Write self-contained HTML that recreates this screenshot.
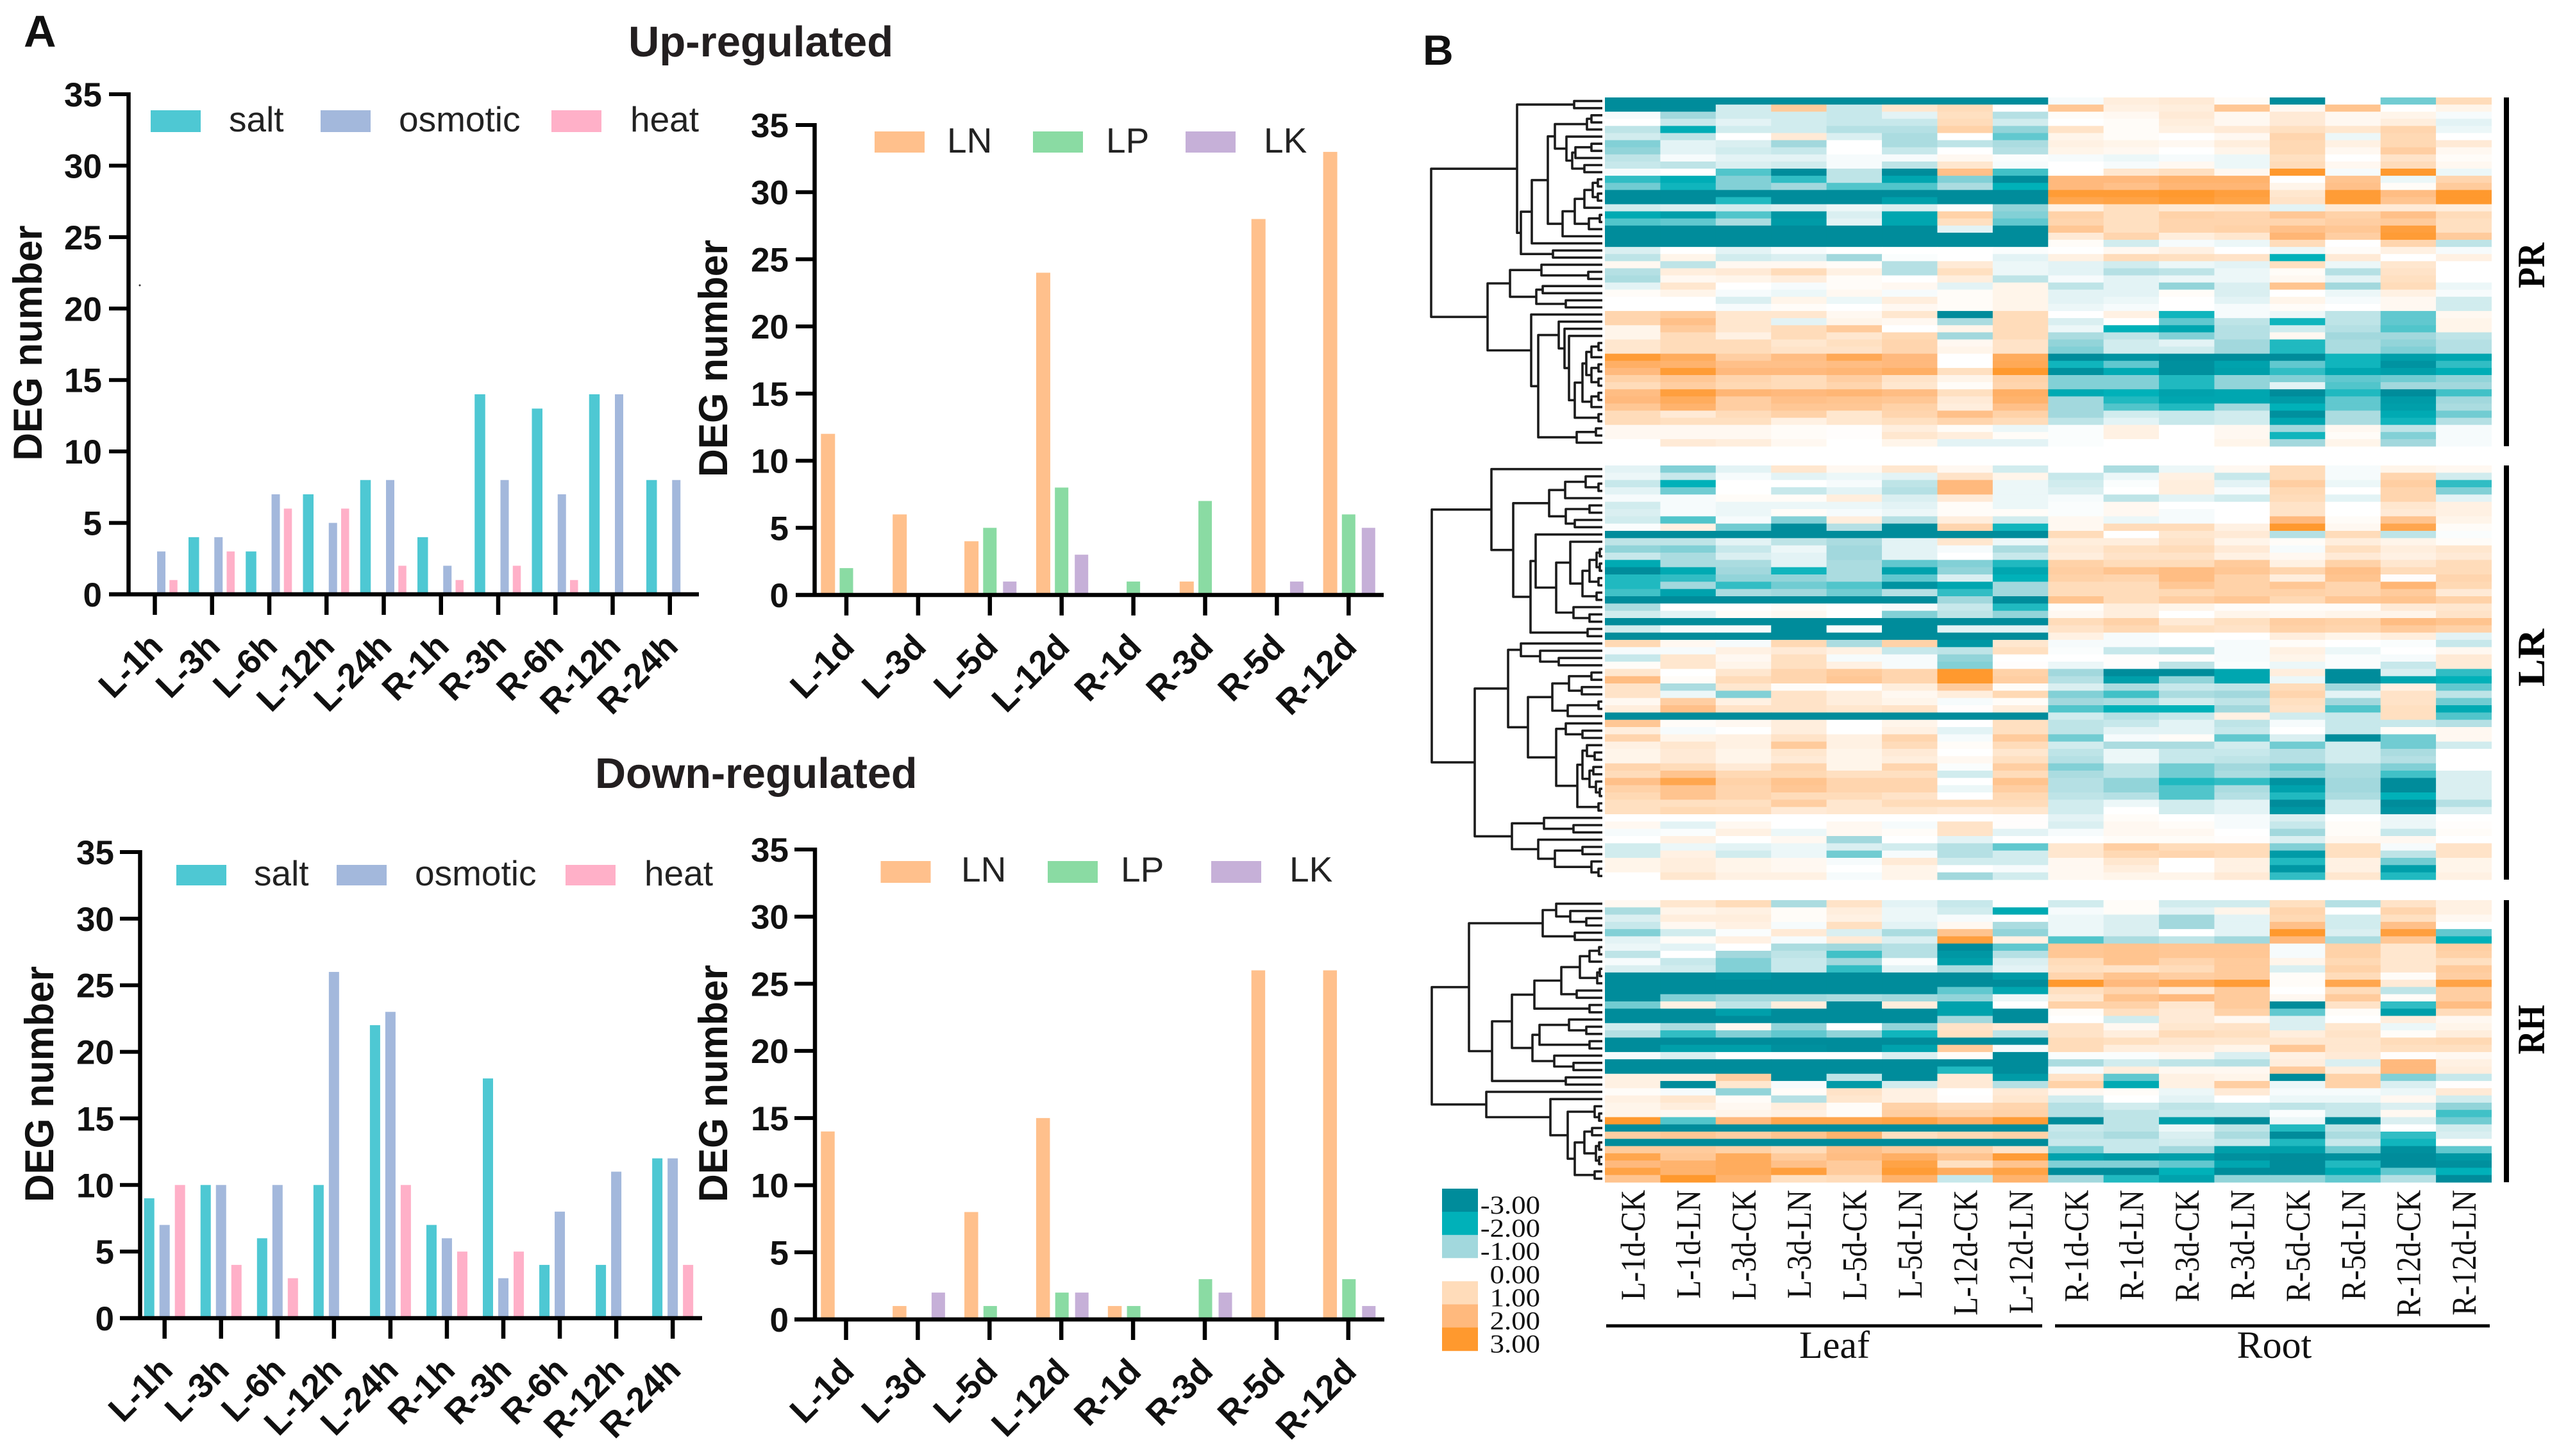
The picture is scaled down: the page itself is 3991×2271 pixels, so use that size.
<!DOCTYPE html>
<html lang="en">
<head>
<meta charset="utf-8">
<title>DEG number bar charts and expression heatmap</title>
<style>
html,body{margin:0;padding:0;background:#fff;width:3991px;height:2271px;overflow:hidden}
svg{display:block}
.sans{font-family:"Liberation Sans",sans-serif}
.serif{font-family:"Liberation Serif",serif}
</style>
</head>
<body>
<svg id="figure" xmlns="http://www.w3.org/2000/svg" width="3991" height="2271" viewBox="0 0 3991 2271">
<rect width="3991" height="2271" fill="#fff"/>
<text class="sans" x="37" y="73" font-size="70" font-weight="700" fill="#111">A</text>
<text class="sans" x="2219" y="101" font-size="66" font-weight="700" fill="#111">B</text>
<text class="sans" x="980" y="88" font-size="67" font-weight="700" fill="#231f20">Up-regulated</text>
<text class="sans" x="928" y="1229" font-size="66.5" font-weight="700" fill="#231f20">Down-regulated</text>
<circle cx="218" cy="445" r="1.5" fill="#333"/>
<g id="charts"></g>
<g id="heatmap"></g>
<g id="dendrograms"></g>
<g id="heat-annotations"></g>
</svg>
<script>
// ---------- bar chart data ----------
const stressCategories = ["L-1h","L-3h","L-6h","L-12h","L-24h","R-1h","R-3h","R-6h","R-12h","R-24h"];
const nutrientCategories = ["L-1d","L-3d","L-5d","L-12d","R-1d","R-3d","R-5d","R-12d"];
const yTickValues = [0,5,10,15,20,25,30,35];
const upSalt = [0,4,3,7,8,4,14,13,14,8];
const upOsmotic = [3,4,7,5,8,2,8,7,14,8];
const upHeat = [1,3,6,6,2,1,2,1,0,0];
const upLN = [12,6,4,24,0,1,28,33];
const upLP = [2,0,5,8,1,7,0,6];
const upLK = [0,0,1,3,0,0,1,5];
const downSalt = [9,10,6,10,22,7,18,4,4,12];
const downOsmotic = [7,10,10,26,23,6,3,8,11,12];
const downHeat = [10,4,3,0,10,5,5,0,0,4];
const downLN = [14,1,8,15,1,0,26,26];
const downLP = [0,0,1,2,1,3,0,3];
const downLK = [0,2,0,2,0,2,0,1];

// ---------- heatmap data ----------
const sampleLabels = ["L-1d-CK","L-1d-LN","L-3d-CK","L-3d-LN","L-5d-CK","L-5d-LN","L-12d-CK","L-12d-LN","R-1d-CK","R-1d-LN","R-3d-CK","R-3d-LN","R-5d-CK","R-5d-LN","R-12d-CK","R-12d-LN"];
const legendValues = [-3,-2,-1,0,1,2,3];
const prRows = [
[-3,-3,-3,-3,-3,-3,-3,-3,-.1,.5,.6,.1,-3,0,-1.3,1],
[-3,-3,-.5,1.5,-.6,.7,1,0,1.6,.4,.5,1.6,.2,1.7,0,.3],
[-.1,-1,-.5,-.5,-.6,-.3,.9,-.8,.1,.2,.6,.2,.6,.2,.3,-.1],
[0,-.6,-.3,-.5,-.6,-.6,1,-.5,0,.1,.5,.2,.6,.2,.5,-.3],
[-.7,-2.1,-.5,-.5,-.8,-.8,1.3,-1.1,.8,.1,.4,.6,.9,.7,1.2,-.2],
[-.5,-.7,0,.6,-.4,-.9,0,-1.4,.3,.1,0,.2,1.2,-.2,1.1,0],
[-1.2,-.3,-.4,-1,0,-.9,-.7,-.9,.4,.3,.2,.5,1.1,.4,1.1,.6],
[-1.1,-.3,-.5,-.6,0,-.6,0,-.8,.3,.2,0,.3,1.1,.2,1.4,.2],
[-.7,-.1,-.3,-.3,-.1,-.1,.2,-.05,-.1,-.2,-.1,-.2,.9,0,.8,.1],
[-.6,-.7,-.4,-.5,-.1,-.7,.7,-.1,0,-.1,.2,-.2,1,.2,1,.2],
[-.1,0,-1.5,-3,-.7,-3,1.8,-1.6,0,.7,.9,.2,3,-.1,3,-.2],
[-1.7,-2.1,-1.2,-1.7,-.7,-2.3,-1.2,-3,2,2,2.2,2.2,0,1.7,-.2,1.2],
[-1.3,-1.9,-1.2,-1,-1.5,-1.5,-.9,-2,2,1.8,2.1,2.1,.3,1.8,.1,1.5],
[-3,-3,-3,-3,-3,-3,-3,-3,2.9,2.9,3,2.8,.7,2.9,1.9,3],
[-3,-3,-1.8,-3,-3,-2.5,-3,-3,2.6,2.7,2.9,2.7,.8,2.9,1.7,3],
[-.5,-.4,-.5,-.4,-.2,-.4,-.05,-1.1,.4,.9,.6,.7,-.3,.6,.6,.5],
[-2.2,-2.5,-1.5,-2.7,-.4,-2.3,1.3,-1.2,1.3,.9,1.3,1.2,1.6,1.3,1.8,1],
[-1.5,-1.4,-.9,-2.6,-.3,-2.3,.9,-1.4,1.2,.9,1.2,1.2,1.2,1.4,1.5,.9],
[-3,-3,-3,-3,-3,-3,-.3,-3,1.6,.9,1.2,1.3,1.8,1.6,2.8,.9],
[-3,-3,-3,-3,-3,-3,-3,-3,.6,1.2,.5,.7,2.1,1.4,2.9,1.5],
[-3,-3,-3,-3,-3,-3,-3,-3,.1,-.5,-.1,-.2,1,0,1.2,-.7],
[-.4,0,-.3,-.1,0,0,0,-.05,0,.2,.4,0,-.2,.1,.4,-.1],
[-.7,.3,-.5,-.4,-1,-.05,0,-.3,.4,1,.9,.8,-2,.6,0,.4],
[.2,-.7,.2,.2,.1,-.8,.6,-.2,-.3,-.5,-.2,-.3,.9,-.2,.7,0],
[-.8,.5,.6,1,.4,-.8,.9,-.2,-.3,-.8,-.7,-.2,.1,-.8,.8,0],
[-.9,.2,.3,.5,.1,0,.5,-.7,-.1,-.3,-.2,-.2,.2,-.3,.9,0],
[-.3,.7,0,-.1,.1,.2,-.3,.3,-.7,-.3,-1.1,-.4,1.7,-1,1,-.2],
[.1,.3,-.1,-.2,.2,-.1,.1,.3,-.3,-.3,.1,-.4,0,-.2,.4,-.1],
[0,0,-.4,.3,-.2,.5,.1,.3,-.3,-.2,0,-.3,.3,-.1,.2,-.5],
[0,0,-.1,.1,0,.2,.1,.3,-.2,-.1,0,-.1,.1,0,.2,-.5],
[1.2,1.5,.7,.7,.2,.7,-3,1,0,.4,-1.9,-.1,-.2,-.7,-1.4,.2],
[1.2,1.8,.7,-.3,.3,.2,-.9,1,-.4,0,-1.4,-.7,-1.9,-.7,-1.4,.3],
[.3,1.5,.7,1,1.5,0,.3,1,-.2,-2,-2.3,-.8,-.5,-.8,-1.5,.3],
[.3,1,.4,1,.7,1.1,-1,1,-.9,-.7,-1.2,-.8,.2,-1,-1,-.7],
[.7,1,1,.7,.9,1.2,.2,.8,-1.1,-.5,-.3,-1,-1.8,-.9,-1.1,-.8],
[.7,1,1,.8,.8,1.2,.3,.8,-1.2,-.5,-.5,-1,-1.8,-.9,-1.2,-.8],
[2.9,2.4,1.4,1.9,2.5,2,0,2.4,-3,-2.8,-3,-3,-3,-1.9,-2.5,-2.3],
[2.3,2.2,1.8,1.8,1.9,2,0,2.5,-1.9,-1.4,-2.9,-2.4,-1.4,-1.9,-2.8,-1.7],
[2,2.9,2,2,2.1,2.3,.9,3,-2.9,-2.2,-2.9,-2.5,-1.7,-2.3,-2.5,-2.1],
[1.3,1.6,1.2,1,1.4,.8,.3,1.3,-1.2,-1.2,-1.8,-1.1,-1.2,-1.4,-1.3,-1.1],
[1,1.4,1.1,1,1.2,.7,.1,1.2,-1.2,-1.2,-1.8,-1.1,-.3,-1.5,-1,-1],
[1.9,2.8,2.1,2,2.1,1.9,.9,2.3,-2.2,-2,-2.4,-2.3,-3,-1.8,-3,-1.6],
[2,2.4,1.4,1.8,1.7,1.6,.6,2.2,-1,-1.8,-2.3,-2.3,-2.6,-1.4,-2.6,-1],
[1.6,2.2,1.4,1.6,1.6,1.3,.5,1.8,-1,-1.5,-1.8,-1,-2,-1.4,-2.5,-.9],
[1,.6,1,1.3,.7,1.2,1.8,1.3,-1,-.5,-.6,-.5,-2.9,-.9,-2.2,-1.3],
[1,.9,.9,.4,.7,.9,1.2,1,-.7,-.3,-.6,-.5,-2.3,-.9,-1.9,-.8],
[.2,.2,.2,.1,.05,.5,.1,-.2,-.05,.4,0,.2,-1,.2,-.7,-.1],
[.2,.2,.2,.1,.05,.7,.5,.1,-.05,.4,0,.2,-1.9,.1,-1.2,-.1],
[0,.6,.5,.2,0,.3,-.3,-.3,-.05,0,0,.3,-1,.3,-1,-.1]
];
const lrRows = [
[-.3,-1.2,-.3,.7,.2,.7,.2,-.5,0,-.9,-.2,.2,1,-.1,.3,.2],
[-.2,-.6,-.1,-.3,-.2,-.3,.8,.3,-.6,-.2,.4,-.6,1,-.1,1.2,-.5],
[-.6,-2,0,0,-.1,-.7,2,-.2,-.5,-.05,.5,-.3,1.4,-.2,1.4,-1.7],
[-.3,-1.3,0,-.6,-.3,-.8,2,-.2,-.4,0,.5,-.1,1.1,0,1.2,-1.2],
[-.1,-.1,.1,.1,.5,-.4,.6,-.2,-.1,-.7,-.3,-.5,1,-.3,1.2,-.3],
[-.5,-.1,-.2,-.2,-.2,-.3,.1,-.2,-.05,.2,0,0,.8,0,.7,.4],
[-.4,-.1,-.2,.1,-.1,-.2,.1,.1,-.05,.2,-.1,0,.8,0,.6,.4],
[-.5,-1.5,-.1,-1.2,.5,-.8,.5,-.5,.2,-.2,-.1,0,2,.1,1.7,.3],
[-.05,.4,-1.3,-3,-.8,-3,1.2,-1.9,.2,1,1,.4,3,.2,2.6,.1],
[-3,-3,-3,-3,-3,-3,-3,-3,1,0,.7,.6,-.8,1,-.7,-.05],
[-.7,-.7,-.3,-.7,-.9,-.3,.7,-.2,.5,.5,.8,.3,.1,.5,.3,.1],
[-1.1,-1.2,-.6,-.2,-1,-.3,-.1,-.9,.6,.9,1,.6,-.1,.9,.5,.7],
[-.6,-.9,-.4,-.3,-1,-.3,0,-.6,.5,.8,.8,.4,.2,.6,.4,.6],
[-2.2,-.9,-.9,-.3,-.9,-1.4,-1.2,-1.8,1.3,1,1,1.5,.4,1.3,.7,1],
[-3,-2.2,-1,-1.9,-.9,-2.4,-1.1,-2.3,1.4,1.7,1.9,1.6,1.2,1.8,1,1],
[-1.8,-1.7,-1.1,-1.1,-.9,-1.4,-.4,-2,1.3,1.2,1.9,1.3,.5,1.7,.05,1.2],
[-1.8,-1,-1.7,-1.3,-1.5,-2.8,-2.3,-1,1,1,1.6,1.3,1.6,1.2,2.1,1.1],
[-1.6,-2.4,-.9,-1,-1.3,-.8,-1.7,-1,1,1,1.1,1.3,1.3,1.2,1.5,.6],
[-3,-3,-3,-3,-3,-3,-1,-3,1.7,1,1.4,1.6,1.1,1.6,1.7,1.3],
[-.9,0,0,.1,0,-.1,-.6,-1.8,.1,.5,.3,.1,.1,.1,.6,.7],
[-.5,-.3,.1,.2,0,-1.2,-.7,-1.1,.2,.5,0,.3,.2,.3,.3,.8],
[-3,-3,-3,-3,-3,-3,-3,-3,1,1.3,.6,.9,1.4,1.3,1.9,1.7],
[-.5,-.1,-.1,-3,-.05,-3,-.3,-.3,.8,1.1,.9,.8,1.3,1.2,1.5,1.3],
[-3,-3,-3,-3,-3,-3,-3,-3,.4,-.1,0,0,.5,.3,.5,-.3],
[1.1,.2,-.1,1.1,-.9,1.3,-2.7,.7,-.1,-.1,0,-.1,.1,0,-.05,-.6],
[-.1,-.1,.4,.6,.4,-.6,-.7,.9,-.05,-.6,-.8,-.1,.4,-.2,0,.2],
[-.6,.7,.2,.9,-.1,-.1,-1.1,0,0,.05,.05,-.1,.3,-.05,-.1,.6],
[.1,.7,.3,.9,.4,-.1,-1.2,.05,-.2,.05,-.7,-.05,-.2,-.05,-.6,.6],
[.7,0,.7,1.2,1.5,1.2,3,1.3,-1,-3,-3,-2.3,.5,-3,-.4,-1.7],
[1.9,.1,1,1.2,1.6,1.2,3,1.4,-.8,-2.5,-1.1,-2.3,-.2,-3,-2.3,-2],
[.8,-.9,.7,.1,0,.5,1.5,.1,-.4,-.9,-.6,-.7,1,-1,.4,-1.4],
[.8,-.2,-1.2,.8,.5,.2,.5,1.1,-1.2,-1.6,-.9,-1,1.2,-.3,.8,-.7],
[.2,1.4,.4,.8,.5,.3,-.1,.1,-1,-.9,-.5,-.7,.9,-1,.8,-1.3],
[.5,1.8,.8,.8,.7,.8,.05,.5,-1.5,-2,-2,-1,.8,-1.5,.9,-2.2],
[-3,-3,-3,-3,-3,-3,-3,-3,-.5,-.8,-.6,.4,-.5,-.6,.9,-1.5],
[1.6,.1,.2,.5,0,.3,0,.9,-.7,-.6,-.3,-.7,-.1,-.6,-.6,-.8],
[.5,-.1,0,.5,0,.4,-.3,.9,-.7,-.3,-.3,-.6,0,-.6,.1,.2],
[1.2,.3,.4,.8,.4,1.2,-.1,1.5,-1.3,-.1,.1,-1.4,-.4,-3,-1.3,.2],
[.4,.7,.4,1.5,.4,1,.1,1,-.5,-.9,-.9,-.5,-1.3,-.5,-1.3,-.5],
[.3,.6,.3,.7,.3,.6,0,.7,-.7,-.2,-.6,-.6,-.8,-.5,-.9,0],
[.3,.6,.3,.6,.3,.5,.2,.9,-.8,-.2,-.6,-.7,-.8,-.5,-.8,0],
[1.2,1,.6,1.2,.3,1.2,-.05,1.4,-1.2,-.7,-1.3,-1,-1.3,-.9,-1.2,0],
[1,1.7,1.1,1.1,.9,.9,-.5,1,-.9,-.7,-1.3,-.9,-1.1,-.9,-1.6,-.4],
[1.8,2.6,1.3,1.7,1.2,1.2,0,1.7,-.8,-1.1,-1.8,-1.7,-2.8,-1,-3,-.4],
[1.3,1.7,1.2,1.6,1.2,1.2,-.2,1.4,-.8,-1.1,-1.5,-.9,-2.4,-1,-3,-.4],
[1.1,1.7,1.2,1,1,.8,0,1.1,-.7,-.8,-1.5,-.8,-1.8,-.9,-2,-.4],
[.9,.9,.9,1.4,.7,1,1,1,-.5,-.2,-.5,-.3,-3,-.5,-3,-.8],
[.9,1.1,1,.6,.7,.7,.6,.7,-.5,0,-.5,-.3,-2.7,-.5,-2.8,-.4],
[0,0,0,0,0,0,0,.05,-.3,.1,0,-.1,-.4,0,-.2,0],
[.2,-.3,.2,0,.2,-.1,.8,.05,-.4,.2,.1,-.1,-.6,.1,-.2,.05],
[-.1,-.05,.4,-.2,.2,.1,.8,-.3,-.1,.2,.2,0,-1,.1,-.6,.1],
[0,.4,0,.2,-1,0,-.3,0,0,.1,.1,.05,-.4,.2,.2,0],
[-.5,-.2,-.3,-.2,-.4,-.5,-.8,-1.4,.7,1.4,1,1,-1.2,.9,-.1,.8],
[-.5,.4,-.5,-.2,-1.3,-.1,-.8,-.5,.7,1.1,1.2,1,-2.6,.9,-.7,.8],
[.3,.5,.3,.2,-.1,.6,-.5,-.5,.2,.7,0,.4,-1.8,.4,-1.3,.3],
[.3,.5,.3,.2,0,.3,0,-.1,.2,.5,0,.4,-2.7,.4,-2.5,.3],
[0,.7,.4,.4,-.1,.3,-1,-.5,.2,.3,.3,.6,-1.7,.7,-1.8,.4]
];
const rhRows = [
[.2,.7,1,-.9,.8,-.3,-.6,0,-.5,.1,-.5,-.5,.9,-.8,.8,.4],
[-.9,.3,.4,.1,.5,-.2,-.5,-2.2,-.1,.1,-.3,.3,1.2,0,1.2,.4],
[-.4,.5,.5,.1,.4,-.2,-.1,0,-.2,-.4,-1,-.3,1.1,-.5,.9,.2],
[-.6,.2,.4,-.1,.9,-.3,.2,-.9,-.2,-.4,-1,-.3,1.8,-.5,1.8,0],
[-1.2,-.5,-.05,.6,-.4,-.9,1.7,-1.1,-.2,-.4,0,-.3,3,-.4,2.8,-1.4],
[-.3,.1,.4,-.1,.6,-.4,2.8,.4,-1.5,-.9,-.7,-1,2,-.9,1.6,-2],
[-.2,-.3,0,-.9,-1,-.8,-3,-1.4,1.6,1.7,1.6,1.6,-.1,1.3,.7,1.4],
[-.7,0,-1,-.7,-1.6,-.8,-2.7,-.8,1.6,1.7,1.6,1.6,-.1,1.3,.7,1.3],
[-.1,-.6,-1.2,-.6,-1,-.05,-2.5,-.4,1,1.7,1.2,1.5,.3,1.1,.7,.9],
[-.4,-.5,-1.2,-.6,-1.7,-.3,-.9,-.3,.9,.8,1,1.5,-.4,1.3,.7,1.5],
[-3,-3,-2.8,-3,-3,-3,-3,-2.6,1.2,1.7,1.4,1.5,.1,1,.1,1.4],
[-3,-3,-3,-3,-3,-3,-3,-3,3,2,2.5,2.9,.1,2.6,.6,2.7],
[-3,-3,-3,-3,-3,-3,-1.4,-2.3,.9,1.2,.6,1.5,0,1,-.7,1.4],
[-3,-1.2,-1,-1,-.9,-1,-1.1,-.2,.7,1.7,2,1.5,.2,1.5,.1,1.4],
[-1.3,.4,-.7,.5,-3,.5,-2.4,0,1.3,1.3,.7,1.5,-3,.8,-1.7,1.9],
[-3,-3,-2.5,-3,-3,-3,-2.4,-3,.1,.9,.6,1.3,-1.4,.1,-2.5,1],
[-3,-3,-3,-3,-3,-3,-1,-3,0,-.5,.6,.2,-.4,0,.5,.2],
[-.5,-.9,.2,-1.1,0,-1.1,.8,.6,.8,.2,.7,.8,-.4,.7,-.2,.3],
[-.8,-1.7,-1.2,-1.4,-1.1,-1.9,.9,-.7,.8,.5,1,.9,.5,.8,.1,.5],
[-3,-3,-3,-3,-3,-3,-3,-3,1,.9,.7,.7,.7,.7,1,1.1],
[-3,-2.5,-2.5,-2.9,-3,-2.4,1.5,-.1,1,.5,.5,.3,1.6,.7,.9,.9],
[-.1,-.4,0,0,0,-.4,.1,-3,-.05,-.05,.2,-.4,.4,.6,.05,.2],
[-3,-3,-3,-3,-3,-3,-3,-3,-.9,-.5,-.7,-.8,.5,-.4,2,.4],
[-3,-3,-3,-3,-3,-3,-1.8,-3,-.1,.5,.2,.2,1.5,.5,2,.5],
[.4,.4,1.4,-3,-.7,-3,.6,-2.6,.8,-1.4,.4,.3,-3,1.3,-1.2,-.6],
[.4,-3,.7,-.1,-2.6,-.5,.6,-.8,1.3,-2.2,.4,1.4,-.2,1.3,-.4,.05],
[.1,-.1,-1.1,.1,.8,.4,0,.6,.2,.1,-.2,.6,-.1,-.1,-.2,.6],
[.4,.7,.1,-.8,.7,.4,.05,.7,-.5,0,-.3,0,-.2,-.2,.2,-.5],
[.3,.5,.2,.5,.1,1.3,1,1.2,-.8,-.5,-.7,-.6,-.7,-.6,-.4,-1.1],
[.3,.2,.3,.4,.1,1.4,1.2,1.3,-.8,-.7,-.6,-.6,-.05,-.6,.2,-1.6],
[3,-1.5,2,2.6,2.6,2.7,2.3,2.9,-3,-.7,-2.5,-3,-.2,-3,-.4,-1.3],
[-3,-3,-3,-3,-3,-3,-3,-3,-.6,-.7,-.2,-.7,-1.8,-.7,0,-.5],
[1.4,1.6,1.4,1.7,2.2,.9,1.1,1.3,-.7,-.9,-.4,-.9,-3,-.9,-1.7,-.4],
[-3,-3,-3,-3,-3,-3,-3,-3,-.6,-.6,-.5,-.6,-1.8,-.6,-1.9,.05],
[1.5,1.5,1.3,1,1.8,1.5,1.3,.8,-1.3,-.6,-1,-2.5,-2.5,-1.3,-2.9,-1.4],
[2.6,1.6,2.4,1.5,1.9,2.3,1.7,2.9,-2.4,-2.6,-2.5,-2.9,-3,-2.9,-3,-2.7],
[2,2.2,2.4,1.8,1.5,2.7,.9,1.7,-1.2,-1.2,-1.4,-2.3,-3,-1.8,-3,-2.9],
[2.7,2.2,2.4,2.8,1.5,2.9,2.4,2.7,-3,-3,-2,-3,-3,-2.2,-1.4,-2],
[1.7,3,2.2,.9,1,2.2,-.6,2.2,-1,-1.8,-2.4,-1.1,-1.1,-1.4,-.8,-3]
];
// dendrogram merges: [merge distance, child, child]; 0 is the next leaf row
const prTree = [267,
  [133,[44,0,0],[127,[110,[85,[74,[24,[17,0,0],0],[56,0,[47,[42,[17,0,0],0],[28,0,0]]]],[62,[43,[28,[15,[7,0,0],[7,0,0]],0],[21,[4,0,0],0]],0]],0],[77,0,0]]],
  [179,[144,[95,0,[22,0,0]],[103,[93,0,0],[57,0,0]]],
   [111,0,[100,[68,0,[59,0,[52,0,[43,[31,[25,[17,[6,0,0],0],[17,[6,0,0],[6,0,0]]],[17,[6,0,0],0]],[6,0,0]]]]],[40,[10,0,0],0]]]]];
const lrTree = [266,
  [173,0,[139,[83,[58,[26,0,[6,0,0]],0],[57,[20,0,0],[43,0,0]]],
   [112,[104,0,[72,[50,0,[31,[20,[9,[4,0,0],[4,0,0]],[6,0,0]],[9,0,0]]],[45,0,[20,0,0]]]],[23,0,0]]]],
  [199,[147,[127,0,[97,0,[68,0,0]]],
    [116,[78,[52,[17,0,0],[32,0,0]],[54,[6,0,0],0]],
     [72,[57,0,[31,0,0]],[39,[31,[24,0,[12,0,0]],[20,[14,0,0],[10,0,[4,0,0]]]],[6,0,0]]]]],
   [141,[91,0,[45,0,0]],[100,0,[74,[31,0,0],[17,0,[6,0,0]]]]]]];
const rhTree = [266,
  [208,[93,[72,0,[50,0,[25,0,0]]],[43,0,0]],
   [172,[141,[106,[64,[35,[20,[5,0,0],0],[8,[4,0,0],0]],[40,0,0]],[20,0,0]],[109,[98,[52,0,[25,0,0]],[20,0,0]],[75,0,[45,0,0]]]],[57,0,0]]],
  [181,0,[81,0,[54,[12,0,[5,0,0]],[43,[28,[16,0,0],[10,[5,0,0],[5,0,0]]],[12,0,0]]]]]];

// ---------- drawing helpers ----------
const NS = 'http://www.w3.org/2000/svg';
function add(parent, tag, attrs, content) {
  const el = document.createElementNS(NS, tag);
  for (const k in attrs) el.setAttribute(k, attrs[k]);
  if (content !== undefined) el.textContent = content;
  parent.appendChild(el);
  return el;
}
function slug(s) { return String(s).toLowerCase().replace(/[^a-z0-9]+/g, '-'); }

// ---------- bar charts ----------
const chartsRoot = document.getElementById('charts');
const panels = [
  {id:'up-stress', axisX:200.5, y0:927, yTop:147, xStart:170, xEnd:1090, tick0:241.5, pitch:89.25, tickRight:159, cats:stressCategories, yLabelX:65, yLabelY:535, yLabelLen:367, legendY:172, legendH:34, legendBase:205,
   series:[{name:'salt',values:upSalt,color:'#4ec8d3',off:-28.5,w:16.5,swatch:235,text:357},{name:'osmotic',values:upOsmotic,color:'#a3b8dc',off:10,w:13,swatch:500,text:622},{name:'heat',values:upHeat,color:'#ffb0c8',off:29,w:12.5,swatch:860,text:983}]},
  {id:'up-nutrient', axisX:1270.5, y0:928, yTop:195, xStart:1241, xEnd:2158, tick0:1320, pitch:111.9, tickRight:1230, cats:nutrientCategories, yLabelX:1134, yLabelY:559, yLabelLen:370, legendY:205, legendH:33, legendBase:238,
   series:[{name:'LN',values:upLN,color:'#ffc08c',off:-28.7,w:22,swatch:1364,text:1477},{name:'LP',values:upLP,color:'#8adba3',off:0,w:21,swatch:1611,text:1725},{name:'LK',values:upLK,color:'#c6b0d8',off:31,w:21,swatch:1849,text:1971}]},
  {id:'down-stress', axisX:218.5, y0:2056, yTop:1329, xStart:187, xEnd:1095, tick0:256.7, pitch:88.05, tickRight:178, cats:stressCategories, yLabelX:83, yLabelY:1691, yLabelLen:368, legendY:1349, legendH:32, legendBase:1381,
   series:[{name:'salt',values:downSalt,color:'#4ec8d3',off:-24,w:16,swatch:275,text:396},{name:'osmotic',values:downOsmotic,color:'#a3b8dc',off:0,w:16,swatch:525,text:647},{name:'heat',values:downHeat,color:'#ffb0c8',off:24,w:16,swatch:882,text:1005}]},
  {id:'down-nutrient', axisX:1271, y0:2058, yTop:1325, xStart:1239, xEnd:2159, tick0:1319.5, pitch:111.9, tickRight:1230, cats:nutrientCategories, yLabelX:1134, yLabelY:1690, yLabelLen:370, legendY:1343, legendH:34, legendBase:1375,
   series:[{name:'LN',values:downLN,color:'#ffc08c',off:-28.5,w:21.5,swatch:1373.5,text:1499},{name:'LP',values:downLP,color:'#8adba3',off:1,w:21,swatch:1634,text:1748},{name:'LK',values:downLK,color:'#c6b0d8',off:32,w:21,swatch:1889,text:2011}]}
];
function drawPanel(p) {
  const g = add(chartsRoot, 'g', {});
  
  
  const yScale = v => p.y0 - v * (p.y0 - p.yTop) / 35;
  const xScale = i => p.tick0 + i * p.pitch;
  p.series.forEach(s => {
    s.values.forEach((v, i) => {
      if (!v) return;
      const bar = add(g, 'rect', {x: xScale(i) + s.off - s.w / 2, y: yScale(v), width: s.w, height: p.y0 - yScale(v), fill: s.color});
      
      
    });
    const sw = add(g, 'rect', {x: s.swatch, y: p.legendY, width: 78, height: p.legendH, fill: s.color});
    
    
    const lt = add(g, 'text', {x: s.text, y: p.legendBase, 'font-size': 55, fill: '#222', class: 'sans'}, s.name);
    
    
  });
  const yAxis = add(g, 'line', {x1: p.axisX, x2: p.axisX, y1: p.yTop - 3, y2: p.y0 + 3, stroke: '#000', 'stroke-width': 6.5});
  
  
  const xAxis = add(g, 'line', {x1: p.xStart, x2: p.xEnd, y1: p.y0, y2: p.y0, stroke: '#000', 'stroke-width': 6.5});
  
  
  yTickValues.forEach(v => {
    const t = add(g, 'line', {x1: p.xStart, x2: p.axisX, y1: yScale(v), y2: yScale(v), stroke: '#000', 'stroke-width': 6});
    
    
    const l = add(g, 'text', {x: p.tickRight, y: yScale(v) + 19, 'font-size': 53, 'font-weight': 700, 'text-anchor': 'end', fill: '#111', class: 'sans'}, String(v));
    
    
  });
  p.cats.forEach((c, i) => {
    const x = xScale(i);
    const t = add(g, 'line', {x1: x, x2: x, y1: p.y0, y2: p.y0 + 32, stroke: '#000', 'stroke-width': 6.5});
    
    
    const lx = x + 15.5, ly = p.y0 + 84;
    const l = add(g, 'text', {x: lx, y: ly, transform: 'rotate(-45 ' + lx + ' ' + ly + ')', 'font-size': 54, 'font-weight': 700, 'text-anchor': 'end', fill: '#111', class: 'sans'}, c);
    
    
  });
  const yl = add(g, 'text', {x: p.yLabelX, y: p.yLabelY, transform: 'rotate(-90 ' + p.yLabelX + ' ' + p.yLabelY + ')', 'font-size': 63, 'font-weight': 700, 'text-anchor': 'middle', fill: '#111', class: 'sans', textLength: p.yLabelLen, lengthAdjust: 'spacingAndGlyphs'}, 'DEG number');
  
  
}
panels.forEach(drawPanel);

// ---------- heatmap ----------
const heatRoot = document.getElementById('heatmap');
const dendroRoot = document.getElementById('dendrograms');
const annoRoot = document.getElementById('heat-annotations');
const heatLeft = 2503, heatRight = 3885.5, colW = (heatRight - heatLeft) / 16, leafX = 2499;
const colorStops = [[-3,[0,140,155]],[-2,[0,177,185]],[-1,[162,216,221]],[0,[255,255,255]],[1,[255,220,186]],[2,[255,185,125]],[3,[255,153,46]]];
function heatColor(v) {
  const c = Math.max(-3, Math.min(3, v));
  for (let i = 0; i < colorStops.length - 1; i++) {
    const a = colorStops[i], b = colorStops[i + 1];
    if (c <= b[0]) {
      const t = (c - a[0]) / (b[0] - a[0]);
      return 'rgb(' + a[1].map((q, k) => Math.round(q + (b[1][k] - q) * t)).join(',') + ')';
    }
  }
  return 'rgb(255,153,46)';
}
const sections = [
  {name:'PR', rows:prRows, tree:prTree, top:152, bottom:696, labelY:414, labelLen:71},
  {name:'LR', rows:lrRows, tree:lrTree, top:726, bottom:1372, labelY:1026, labelLen:90},
  {name:'RH', rows:rhRows, tree:rhTree, top:1404, bottom:1844, labelY:1606, labelLen:77}
];
sections.forEach(sec => {
  const g = add(heatRoot, 'g', {});
  
  
  const rowH = (sec.bottom - sec.top) / sec.rows.length;
  const rowY = i => sec.top + i * rowH;
  const colX = j => heatLeft + j * colW;
  sec.rows.forEach((row, i) => {
    row.forEach((v, j) => {
      const cell = add(g, 'rect', {x: colX(j), y: rowY(i), width: colW + .5, height: rowH + .5, fill: heatColor(v)});
      
      
    });
  });
  // dendrogram
  let next = 0;
  let d = '';
  const walk = node => {
    if (node === 0) { const y = rowY(next) + rowH / 2; next++; return {x: leafX, y}; }
    const a = walk(node[1]), b = walk(node[2]);
    const x = leafX - node[0], y = (a.y + b.y) / 2;
    d += 'M' + a.x + ' ' + a.y.toFixed(1) + 'H' + x + 'V' + b.y.toFixed(1) + 'H' + b.x;
    return {x, y};
  };
  walk(sec.tree);
  const den = add(dendroRoot, 'path', {d, fill: 'none', stroke: '#1c1c1c', 'stroke-width': 3.6, 'stroke-linejoin': 'round'});
  
  
  // bracket and label
  const bar = add(annoRoot, 'rect', {x: 3905, y: sec.top, width: 8, height: sec.bottom - sec.top, fill: '#000'});
  
  
  const lbl = add(annoRoot, 'text', {x: 3968, y: sec.labelY, transform: 'rotate(-90 3968 ' + sec.labelY + ')', 'font-size': 60, 'font-weight': 700, 'text-anchor': 'middle', fill: '#000', class: 'serif', textLength: sec.labelLen, lengthAdjust: 'spacingAndGlyphs'}, sec.name);
  
  
});
sampleLabels.forEach((name, j) => {
  const x = heatLeft + j * colW + 62;
  const t = add(annoRoot, 'text', {x: 0, y: 0, transform: 'translate(' + x + ' 1856) rotate(-90) scale(.87 1)', 'font-size': 54, 'text-anchor': 'end', fill: '#111', class: 'serif'}, name);
  
  
});
const groupLines = [{name:'Leaf', x1:2505, x2:3185, cx:2861},{name:'Root', x1:3205, x2:3883, cx:3547}];
groupLines.forEach(gr => {
  const l = add(annoRoot, 'rect', {x: gr.x1, y: 2065.5, width: gr.x2 - gr.x1, height: 5, fill: '#000'});
  
  
  const t = add(annoRoot, 'text', {x: gr.cx, y: 2118, 'font-size': 60, 'text-anchor': 'middle', fill: '#111', class: 'serif'}, gr.name);
  
  
});
const legendTop = 1854, legendStep = 36.1;
legendValues.forEach((v, i) => {
  const y = legendTop + i * legendStep;
  const sw = add(annoRoot, 'rect', {x: 2249, y, width: 56, height: legendStep + .5, fill: heatColor(v)});
  
  
  const t = add(annoRoot, 'text', {x: 0, y: 0, transform: 'translate(2402 ' + (y + 39) + ') scale(1.12 1)', 'font-size': 40, 'text-anchor': 'end', fill: '#111', class: 'serif'}, v.toFixed(2));
  
  
});
</script>
</body>
</html>
